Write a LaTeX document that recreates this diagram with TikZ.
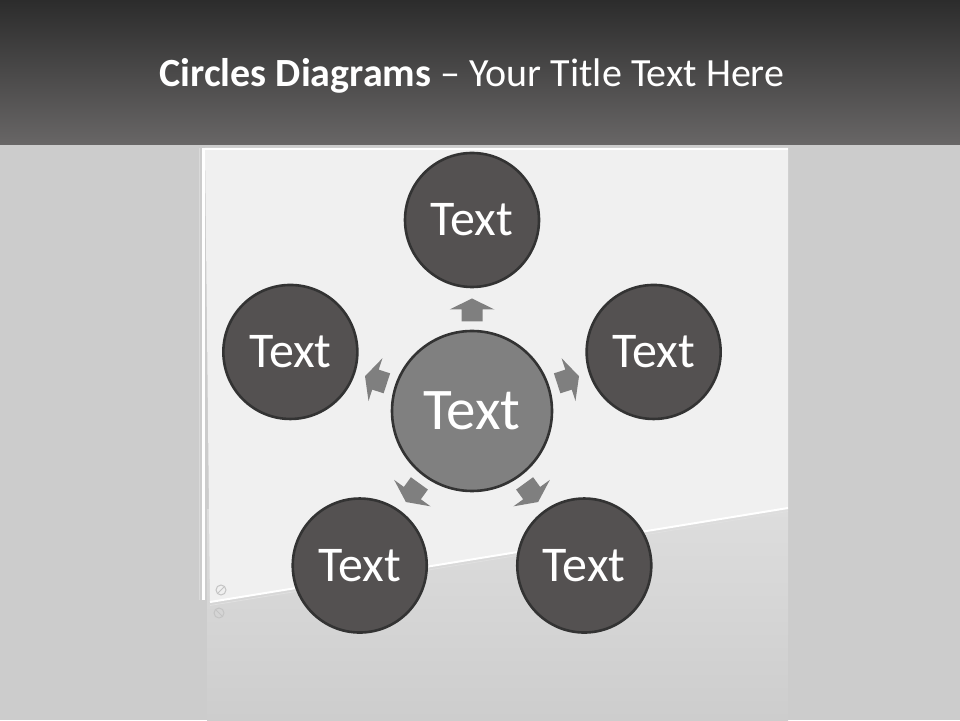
\documentclass[tikz,border=0pt]{standalone}
\usepackage{fontspec}
\setmainfont{Carlito}
\usetikzlibrary{calc}
\definecolor{bggray}{HTML}{CCCCCC}
\definecolor{boardfill}{HTML}{F0F0F0}
\definecolor{refltop}{HTML}{DDDDDD}
\definecolor{reflbot}{HTML}{CDCDCD}
\definecolor{headtop}{HTML}{2C2C2C}
\definecolor{headbot}{HTML}{686666}
\definecolor{outerfill}{HTML}{545151}
\definecolor{centerfill}{HTML}{808080}
\definecolor{ringgray}{HTML}{333333}
\definecolor{arrowgray}{HTML}{7F7F7F}
\definecolor{screwgray}{HTML}{C4C4C4}
\tikzset{
  outercircle/.style={circle, draw=ringgray, line width=2.6pt, fill=outerfill,
    minimum size=134pt, inner sep=0pt, text=white,
    font=\fontsize{50}{54}\selectfont},
  centercircle/.style={circle, draw=ringgray, line width=2.6pt, fill=centerfill,
    minimum size=160pt, inner sep=0pt, text=white,
    font=\fontsize{59}{63}\selectfont},
  blockarrow/.style={fill=arrowgray, draw=none}
}
\begin{document}
\begin{tikzpicture}[x=1pt,y=1pt]
  \useasboundingbox (0,0) rectangle (960,720);
  % background
  \fill[bggray] (0,0) rectangle (960,720);
  % reflection below the board
  \shade[top color=refltop, bottom color=reflbot] (207,0) rectangle (788,210);
  % whiteboard
  \fill[boardfill] (205,572) -- (788,572) -- (788,212) -- (210,118) -- cycle;
  \draw[white, line width=2pt] (210,118) -- (788,212);
  \draw[white!88!black, line width=0.8pt] (210,114.5) -- (788,208.5);
  \draw[white, line width=3pt] (203,120) -- (203,572);
  \draw[black!15, line width=1pt] (199,120) -- (199,572);
  \draw[white, line width=1.5pt] (205,571) -- (788,571);
  % screws
  \draw[screwgray, line width=1pt] (221,130) circle (5);
  \draw[screwgray, line width=1pt] (218,127) -- (224,133);
  \draw[screwgray, line width=1pt] (219,107) circle (5);
  \draw[screwgray, line width=1pt] (216,110) -- (222,104);
  % header
  \shade[top color=headtop, bottom color=headbot] (0,575) rectangle (960,720);
  \node[text=white, font=\fontsize{40}{44}\selectfont, anchor=base] (title) at (472,633)
    {\textbf{Circles Diagrams} -- Your Title Text Here};
  % circles
  \coordinate (c0) at (472,309);
  \node[centercircle] (center) at (c0) {Text};
  \foreach \ang/\nm in {90/top, 18/right, -54/botright, -126/botleft, 162/left}{
    \node[outercircle] (\nm) at ($(c0)+(\ang:191)$) {Text};
    \begin{scope}[shift={($(c0)+(\ang:101)$)}, rotate=\ang]
      \fill[blockarrow] (11.5,0) -- (0.5,22.5) -- (0.5,10.5) -- (-11.5,10.5)
        -- (-11.5,-10.5) -- (0.5,-10.5) -- (0.5,-22.5) -- cycle;
    \end{scope}
  }
\end{tikzpicture}
\end{document}
